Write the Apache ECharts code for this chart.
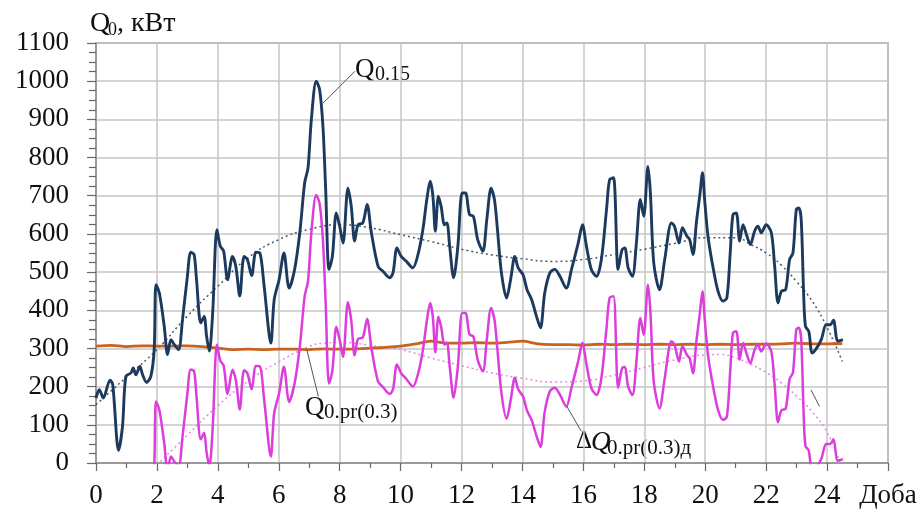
<!DOCTYPE html>
<html>
<head>
<meta charset="utf-8">
<style>
  html, body { margin: 0; padding: 0; background: #ffffff; }
  #chart { width: 922px; height: 514px; }
</style>
<script src="https://cdn.jsdelivr.net/npm/echarts@6/dist/echarts.min.js"></script>
</head>
<body>
<div id="chart"></div>
<script>
// Time of day (hours) at which the load samples were taken
const hours = [
  0.00, 0.11, 0.24, 0.46, 0.55, 0.74, 0.87, 0.98, 1.15, 1.22, 1.31, 1.44, 1.53, 1.66, 1.80, 1.91,
  1.97, 2.08, 2.24, 2.35, 2.46, 2.57, 2.71, 2.84, 3.00, 3.11, 3.22, 3.30, 3.44, 3.55, 3.63, 3.72,
  3.83, 3.97, 4.08, 4.19, 4.32, 4.48, 4.59, 4.72, 4.86, 4.97, 5.11, 5.25, 5.38, 5.52, 5.74, 5.85,
  6.01, 6.17, 6.34, 6.52, 6.69, 6.85, 6.96, 7.07, 7.23, 7.34, 7.45, 7.54, 7.65, 7.76, 7.89, 8.00,
  8.11, 8.27, 8.38, 8.49, 8.60, 8.76, 8.90, 9.04, 9.26, 9.42, 9.64, 9.75, 9.88, 10.02, 10.19, 10.40,
  10.57, 10.73, 10.86, 10.97, 11.06, 11.14, 11.24, 11.33, 11.44, 11.52, 11.61, 11.74, 11.88, 12.02, 12.13, 12.26,
  12.39, 12.53, 12.70, 12.83, 12.97, 13.08, 13.17, 13.31, 13.48, 13.61, 13.75, 13.86, 14.02, 14.15, 14.30, 14.46,
  14.59, 14.73, 14.90, 15.06, 15.23, 15.44, 15.61, 15.83, 15.97, 16.10, 16.26, 16.43, 16.59, 16.76, 16.86, 16.99,
  17.14, 17.27, 17.36, 17.47, 17.61, 17.74, 17.87, 17.98, 18.12, 18.20, 18.31, 18.50, 18.67, 18.89, 18.99, 19.14,
  19.25, 19.40, 19.49, 19.60, 19.71, 19.82, 19.91, 19.98, 20.09, 20.25, 20.42, 20.58, 20.71, 20.82, 20.91, 21.02,
  21.13, 21.24, 21.37, 21.48, 21.62, 21.73, 21.84, 22.00, 22.17, 22.28, 22.39, 22.50, 22.64, 22.77, 22.88, 22.99,
  23.07, 23.15, 23.23, 23.29, 23.40, 23.51, 23.64, 23.81, 23.97, 24.10, 24.21, 24.35, 24.52
];

// Q0.15, kW
const q015 = [
  170, 192, 170, 217, 205, 33, 96, 227, 236, 249, 231, 253, 231, 211, 227, 297,
  467, 445, 358, 284, 323, 310, 297, 376, 489, 552, 546, 480, 367, 384, 332, 293,
  393, 611, 568, 555, 480, 541, 515, 437, 541, 533, 491, 552, 550, 463, 314, 428,
  480, 550, 458, 507, 603, 734, 773, 900, 1000, 978, 882, 716, 507, 541, 655, 620,
  576, 720, 672, 581, 624, 629, 677, 603, 515, 502, 485, 498, 563, 541, 528, 511,
  546, 611, 690, 738, 699, 607, 699, 672, 624, 629, 568, 485, 568, 707, 707, 651,
  646, 585, 555, 638, 720, 690, 620, 498, 432, 480, 541, 511, 493, 454, 428, 384,
  354, 445, 498, 507, 489, 458, 507, 576, 624, 568, 507, 489, 533, 664, 742, 747,
  507, 559, 563, 511, 489, 576, 690, 646, 777, 707, 524, 454, 533, 629, 620, 576,
  616, 594, 585, 546, 630, 700, 760, 690, 594, 515, 450, 424, 432, 550, 651, 655,
  581, 624, 594, 572, 607, 620, 603, 624, 603, 515, 419, 450, 454, 533, 550, 664,
  668, 638, 445, 358, 345, 288, 299, 323, 362, 362, 374, 319, 323
];

// ΔQ0.pr(0.3)д, kW (values below zero fall outside the plot)
const dq = [
  -136, -114, -137, -91, -103, -274, -210, -78, -69, -57, -75, -54, -76, -96, -79, -9,
  161, 139, 52, -22, 17, 4, -9, 69, 182, 245, 240, 174, 62, 79, 28, -10,
  91, 310, 268, 255, 181, 244, 218, 140, 243, 235, 193, 254, 253, 166, 17, 131,
  182, 252, 160, 209, 305, 437, 476, 603, 702, 680, 583, 417, 208, 242, 357, 322,
  278, 421, 373, 282, 325, 329, 377, 302, 213, 199, 181, 193, 258, 235, 220, 200,
  233, 295, 372, 419, 381, 290, 383, 357, 310, 315, 254, 171, 254, 393, 393, 337,
  331, 270, 240, 324, 406, 376, 305, 183, 116, 163, 223, 193, 174, 137, 113, 71,
  42, 134, 188, 197, 179, 148, 197, 267, 315, 259, 197, 178, 222, 354, 432, 437,
  197, 248, 252, 200, 178, 265, 380, 336, 467, 397, 213, 143, 222, 319, 310, 266,
  306, 283, 274, 235, 319, 390, 450, 380, 284, 204, 139, 113, 121, 240, 341, 345,
  271, 314, 283, 261, 296, 309, 292, 313, 292, 204, 107, 138, 142, 220, 237, 350,
  354, 324, 131, 45, 32, -24, -13, 11, 50, 50, 62, 6, 10
];

// Q0.pr(0.3), kW, every half hour
const prHours = [
  0, 0.5, 1, 1.5, 2, 2.5, 3, 3.5, 4, 4.5, 5, 5.5, 6, 6.5, 7, 7.5, 8, 8.5, 9, 9.5,
  10, 10.5, 11, 11.5, 12, 12.5, 13, 13.5, 14, 14.5, 15, 15.5, 16, 16.5, 17, 17.5, 18, 18.5, 19, 19.5,
  20, 20.5, 21, 21.5, 22, 22.5, 23, 23.5, 24, 24.5
];
const qpr = [
  306, 308, 305, 307, 306, 306, 307, 305, 301, 297, 298, 297, 298, 298, 297, 299, 298, 299, 301, 303,
  306, 312, 319, 314, 314, 315, 314, 316, 319, 312, 310, 310, 309, 311, 310, 311, 310, 311, 310, 311,
  310, 311, 310, 311, 311, 312, 314, 312, 312, 313
];

// Polynomial trend of Q0.15
const trendHours = [0, 1, 2, 3, 4, 5, 6, 7, 8, 9, 10, 11, 12, 13, 14, 15, 16, 17, 18, 19, 20, 21, 21.5, 22, 22.5, 23, 23.5, 24, 24.5];
const trendQ = [153, 225, 297, 385, 463, 538, 585, 612, 624, 616, 598, 580, 560, 545, 535, 528, 533, 546, 560, 575, 590, 590, 572, 550, 518, 475, 425, 355, 266];

// Polynomial trend of ΔQ
const trendDHours = [2, 3, 4, 5, 6, 7, 7.5, 8, 8.5, 9, 10, 11, 12, 13, 14, 15, 16, 17, 18, 19, 20, 20.5, 21, 21.5, 22, 22.5, 23, 23.5, 24, 24.5];
const trendDQ = [-5, 73, 150, 215, 265, 305, 314, 316, 314, 308, 297, 275, 255, 236, 222, 212, 215, 230, 250, 270, 283, 284, 275, 258, 237, 210, 175, 135, 80, -15];

// Axis ticks
const xTicks = [0, 2, 4, 6, 8, 10, 12, 14, 16, 18, 20, 22, 24];
const xAxisName = 'Доба';
const yTicks = [0, 100, 200, 300, 400, 500, 600, 700, 800, 900, 1000, 1100];

const pairs = (xs, ys) => xs.map((x, i) => [x, ys[i]]);

const SERIF = '"Liberation Serif", "Times New Roman", serif';
const leaderStyle = { color: '#555555', width: 1, type: 'solid' };

const chart = echarts.init(document.getElementById('chart'), null, { renderer: 'canvas' });

// text placed by the top-left corner of its box
function txt(x, y, text, size, italic) {
  return {
    type: 'text', x: x, y: y, silent: true,
    style: {
      text: text, fill: '#111111', fontFamily: SERIF, fontSize: size,
      fontStyle: italic ? 'italic' : 'normal', align: 'left', verticalAlign: 'top'
    }
  };
}

const option = {
  animation: false,
  backgroundColor: '#ffffff',
  grid: {
    left: 96, right: 34, top: 43, bottom: 51,
    show: true, borderColor: '#8f8f8f', borderWidth: 1.5
  },
  xAxis: {
    type: 'value', min: 0, max: 26, interval: 2,
    axisLine: { show: true, lineStyle: { color: '#8f8f8f', width: 1.5 } },
    axisTick: { show: true, length: 8, lineStyle: { color: '#666666', width: 1.2 } },
    minorTick: { show: true, splitNumber: 2, length: 5, lineStyle: { color: '#666666', width: 1.2 } },
    splitLine: { show: true, lineStyle: { color: '#c6c6c6', width: 1.5 } },
    axisLabel: {
      color: '#111111', fontFamily: SERIF, fontSize: 27, margin: 19,
      formatter: v => (v === 26 ? xAxisName : (xTicks.indexOf(v) >= 0 ? String(v) : ''))
    }
  },
  yAxis: {
    type: 'value', min: 0, max: 1100, interval: 100,
    axisLine: { show: true, lineStyle: { color: '#8f8f8f', width: 1.5 } },
    axisTick: { show: true, length: 9, lineStyle: { color: '#666666', width: 1.2 } },
    minorTick: { show: true, splitNumber: 4, length: 7, lineStyle: { color: '#666666', width: 1.2 } },
    splitLine: { show: true, lineStyle: { color: '#c6c6c6', width: 1.5 } },
    axisLabel: {
      color: '#111111', fontFamily: SERIF, fontSize: 27, margin: 27,
      formatter: v => (yTicks.indexOf(v) >= 0 ? String(v) : '')
    }
  },
  series: [
    {
      name: 'trendQ', type: 'line', data: pairs(trendHours, trendQ),
      smooth: 0.5, showSymbol: false, symbol: 'none', clip: true, z: 2,
      lineStyle: { color: '#4a5868', width: 1.5, type: [2, 3] }
    },
    {
      name: 'trendDQ', type: 'line', data: pairs(trendDHours, trendDQ),
      smooth: 0.5, showSymbol: false, symbol: 'none', clip: true, z: 2,
      lineStyle: { color: '#e08ae0', width: 1.5, type: [2, 3] }
    },
    {
      name: 'Q0.pr(0.3)', type: 'line', data: pairs(prHours, qpr),
      smooth: 0.3, showSymbol: false, symbol: 'none', clip: true, z: 3,
      lineStyle: { color: '#c9621f', width: 2.8 },
      markLine: {
        silent: true, symbol: 'none', label: { show: false }, lineStyle: leaderStyle,
        data: [[{ coord: [6.92, 297] }, { coord: [7.30, 174] }]]
      }
    },
    {
      name: 'ΔQ', type: 'line', data: pairs(hours, dq),
      smooth: 0.3, showSymbol: false, symbol: 'none', clip: true, z: 4,
      lineStyle: { color: '#dc3ddc', width: 2.5 },
      markLine: {
        silent: true, symbol: 'none', label: { show: false }, lineStyle: leaderStyle,
        data: [
          [{ coord: [15.46, 148] }, { coord: [15.93, 83] }],
          [{ coord: [23.47, 192] }, { coord: [23.75, 148] }]
        ]
      }
    },
    {
      name: 'Q0.15', type: 'line', data: pairs(hours, q015),
      smooth: 0.3, showSymbol: false, symbol: 'none', clip: true, z: 5,
      lineStyle: { color: '#1c3a5e', width: 2.9 },
      markLine: {
        silent: true, symbol: 'none', label: { show: false }, lineStyle: leaderStyle,
        data: [[{ coord: [7.46, 943] }, { coord: [8.50, 1026] }]]
      }
    }
  ],
  graphic: [
    // axis title
    txt(90, 10, 'Q', 28), txt(108, 21, '0', 18), txt(117, 10, ', кВт', 28),
    // Q0.15
    txt(355, 56, 'Q', 27), txt(375, 65, '0.15', 20),
    // Q0.pr(0.3)
    txt(305, 394, 'Q', 27), txt(324, 402, '0.pr(0.3)', 21),
    // ΔQ0.pr(0.3)д
    txt(576, 429, 'Δ', 25), txt(591, 429, 'Q', 27, true), txt(607, 438, '0.pr(0.3)д', 21)
  ]
};

chart.setOption(option);
</script>
</body>
</html>
